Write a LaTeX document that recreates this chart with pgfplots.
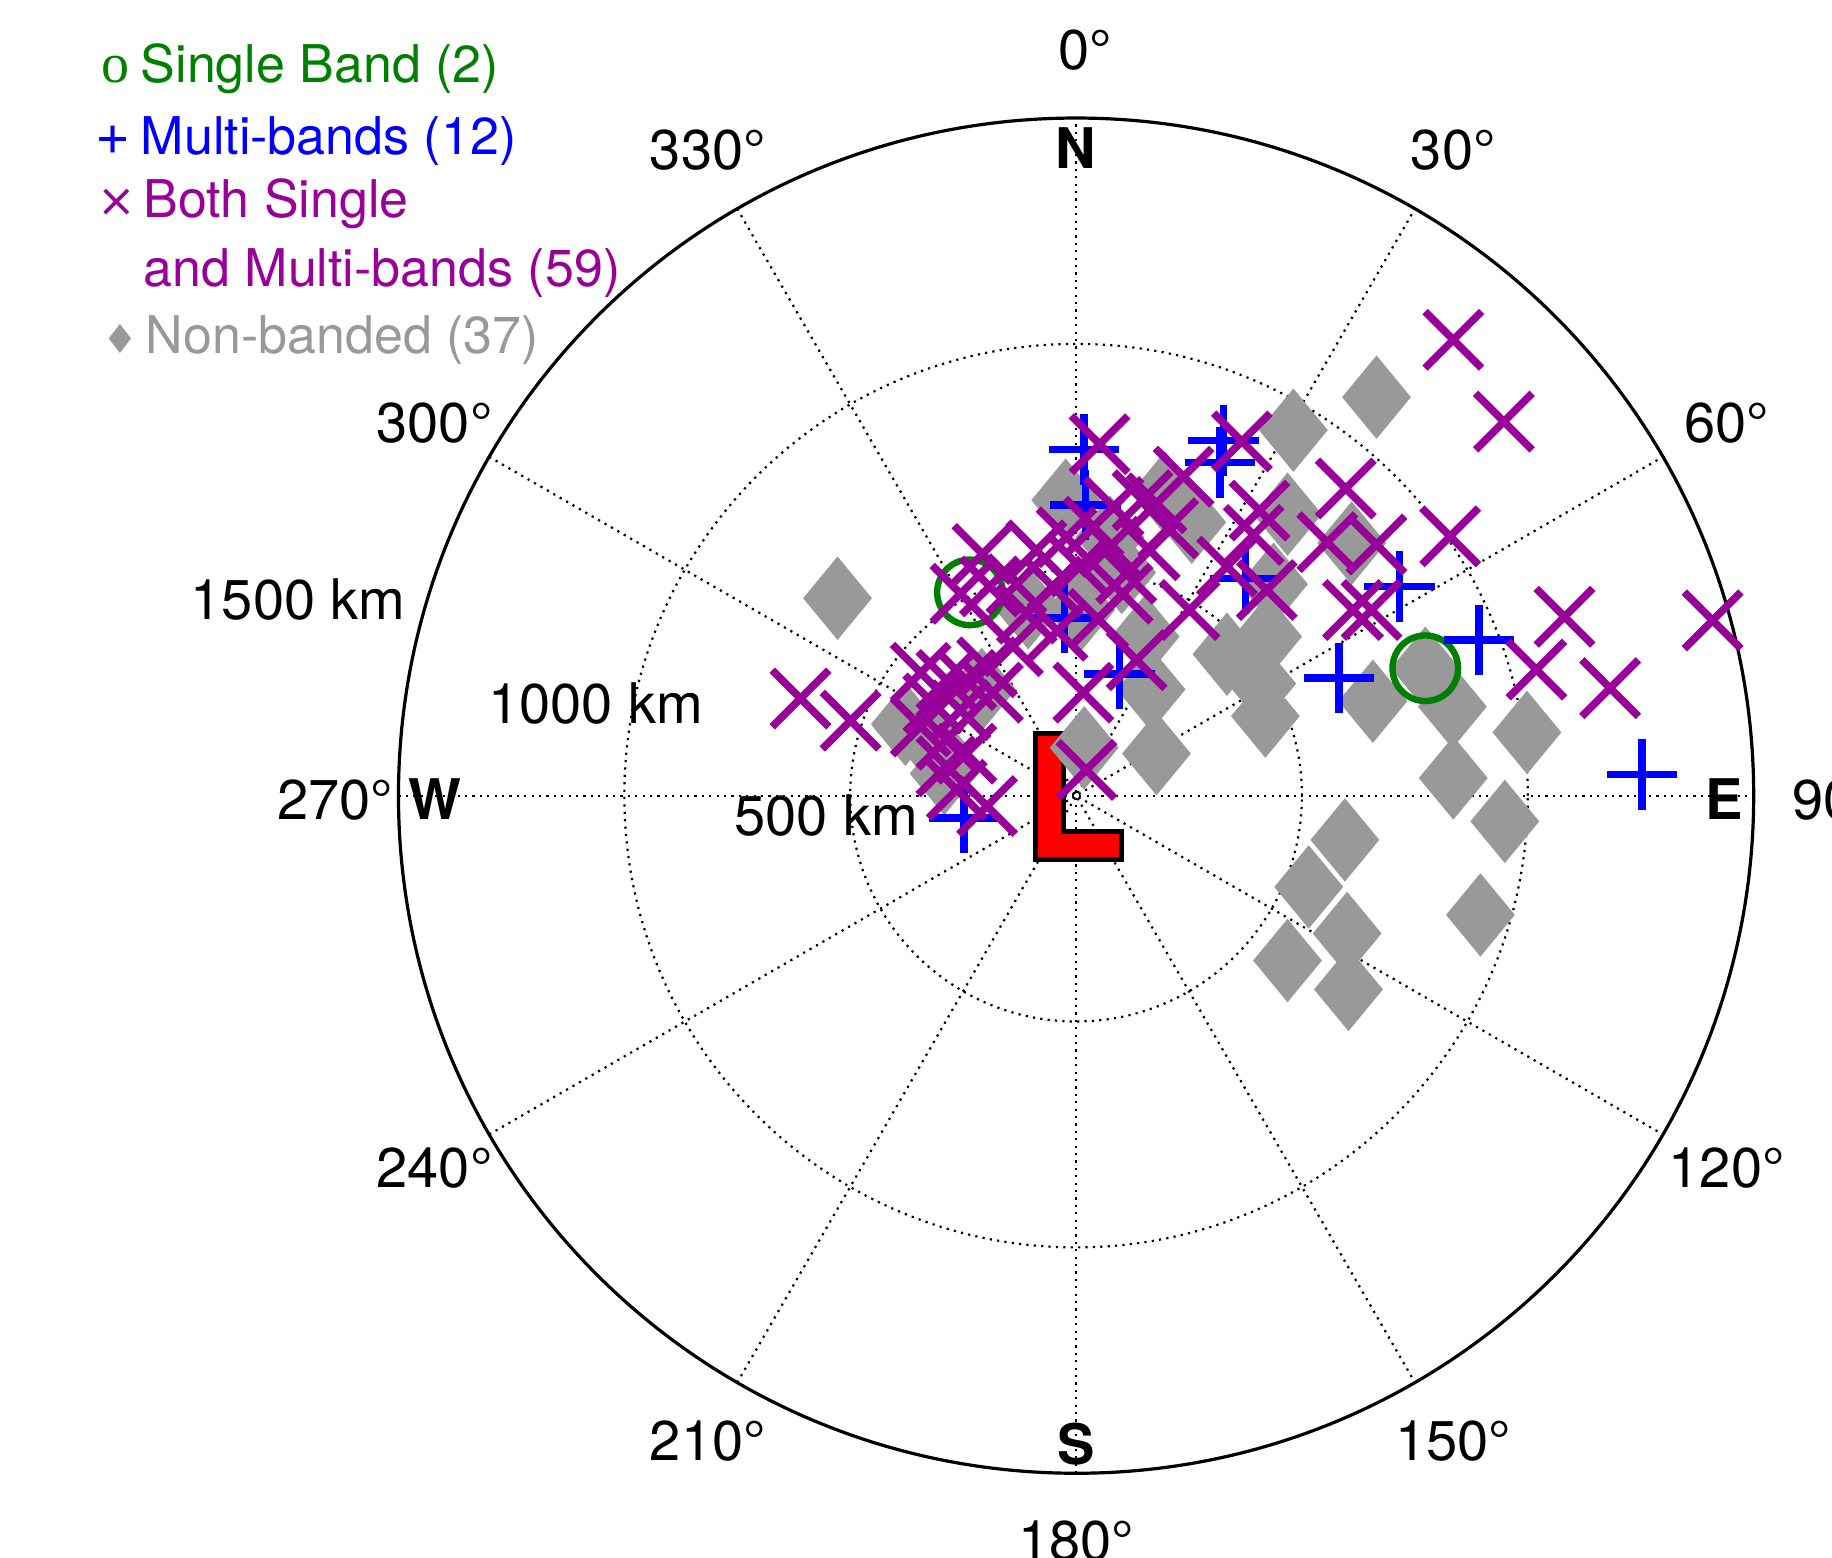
\documentclass[border=0pt]{standalone}
\usepackage{pgfplots}
\pgfplotsset{compat=1.18}
\usepackage{pgfplotstable}
\usepackage{fontspec}
\setmainfont{TeX Gyre Heros}
\newfontfamily\dejavu{DejaVu Sans}
\newfontfamily\serifo{Liberation Serif}
\definecolor{mgreen}{rgb}{0,0.5,0}
\definecolor{mblue}{rgb}{0,0,1}
\definecolor{mpurple}{rgb}{0.6,0,0.6}
\definecolor{mgray}{rgb}{0.6,0.6,0.6}

% east (km), north (km) of each event relative to the site L
\pgfplotstableread{
x y
-235 450
773 282
}\single

\pgfplotstableread{
x y
18 766
326 786
318 737
21 644
-26 393
96 269
375 481
716 463
892 344
582 261
1252 47
-248 -49
}\multi

\pgfplotstableread{
x y
835 1009
947 828
597 680
828 574
1081 396
1409 388
1019 279
1182 238
-610 215
-499 166
52 778
367 784
23 57
-197 -23
556 561
665 556
613 411
654 411
238 706
178 647
406 631
393 577
334 507
422 455
251 411
83 639
75 551
163 543
103 447
-207 535
-256 447
-191 463
-88 543
-21 572
39 595
147 654
204 592
111 491
8 507
-52 463
-109 403
-140 331
-197 284
-243 256
-287 256
-344 272
-316 204
-256 189
-184 228
-344 153
-287 124
-243 93
-287 65
-264 13
16 228
134 300
49 391
-132 468
-41 365
}\both

\pgfplotstableread{
x y
-528 437
-378 158
-292 49
-209 235
-23 654
10 411
18 106
178 93
166 235
153 352
197 670
256 605
481 809
665 882
468 623
610 559
437 468
424 352
411 248
419 176
657 209
773 282
833 197
998 140
835 39
949 -57
595 -98
515 -202
600 -305
468 -365
603 -429
895 -264
334 313
75 572
101 494
-106 416
-313 106
}\nonband

\tikzset{gridline/.style={black, line width=0.55pt, dash pattern=on 0.55pt off 1.3pt}}

\begin{document}
\begin{tikzpicture}
\begin{axis}[
  x=0.112942pt, y=0.112942pt,
  xmin=-2381.9, xmax=1673.3, ymin=-1686.2, ymax=1761.2,
  hide axis, clip=false, enlargelimits=false,
  /pgf/number format/assume math mode=true,
]
\coordinate (SW) at (axis cs:-2381.9,-1686.2);
\coordinate (NE) at (axis cs:1673.3,1761.2);

% grid
\draw[gridline] (axis cs:0,0) circle[radius=56.471pt];
\draw[gridline] (axis cs:0,0) circle[radius=112.942pt];
\draw[gridline] (axis cs:0,-1500) -- (axis cs:0,1500);
\draw[gridline] (axis cs:-750,-1299.04) -- (axis cs:750,1299.04);
\draw[gridline] (axis cs:-1299.04,-750) -- (axis cs:1299.04,750);
\draw[gridline] (axis cs:-1500,0) -- (axis cs:1500,0);
\draw[gridline] (axis cs:-1299.04,750) -- (axis cs:1299.04,-750);
\draw[gridline] (axis cs:-750,1299.04) -- (axis cs:750,-1299.04);
\draw[black, line width=0.8pt] (axis cs:0,0) circle[radius=169.413pt];

% angle labels
\begin{scope}[every node/.style={font=\fontsize{14}{16}\selectfont, inner sep=0pt}]
\node at (axis cs:20,1650) {0°};
\node at (axis cs:835,1428.9) {30°};
\node at (axis cs:1440,825) {60°};
\node at (axis cs:1680,-10) {90°};
\node at (axis cs:1440,-825) {120°};
\node at (axis cs:835,-1428.9) {150°};
\node at (axis cs:0,-1650) {180°};
\node at (axis cs:-815,-1428.9) {210°};
\node at (axis cs:-1420,-825) {240°};
\node at (axis cs:-1640,-10) {270°};
\node at (axis cs:-1420,825) {300°};
\node at (axis cs:-815,1428.9) {330°};
\node[font=\fontsize{14}{16}\selectfont\bfseries] at (axis cs:0,1433) {N};
\node[font=\fontsize{14}{16}\selectfont\bfseries] at (axis cs:1435,-8) {E};
\node[font=\fontsize{14}{16}\selectfont\bfseries] at (axis cs:0,-1435) {S};
\node[font=\fontsize{14}{16}\selectfont\bfseries] at (axis cs:-1420,-8) {W};
\node at (axis cs:-553,-44) {500 km};
\node at (axis cs:-1063,204) {1000 km};
\node at (axis cs:-1722,434) {1500 km};
\end{scope}

% data
\addplot[only marks, mark=diamond*, mark size=9.8pt, color=mgray,
  mark options={fill=mgray, draw=mgray, line width=0.8pt, xscale=1.1}] table {\nonband};
\addplot[only marks, mark=o, mark size=8.2pt, color=mgreen,
  mark options={line width=1.6pt}] table {\single};
\addplot[only marks, mark=+, mark size=8.8pt, color=mblue,
  mark options={line width=1.9pt}] table {\multi};
\addplot[only marks, mark=x, mark size=10pt, color=mpurple,
  mark options={line width=1.9pt}] table {\both};

% site marker L
\draw[fill=red, draw=black, line width=1.3pt]
  (axis cs:-90.5,137.1) -- (axis cs:-28.4,137.1) -- (axis cs:-28.4,-80.2)
  -- (axis cs:100.9,-80.2) -- (axis cs:100.9,-142.2) -- (axis cs:-90.5,-142.2) -- cycle;

% legend (text annotations)
\begin{scope}[every node/.style={font=\fontsize{13}{15}\selectfont, inner sep=0pt, anchor=base west}]
\node[text=mgreen] at (axis cs:-2159,1578) {\serifo\fontsize{14}{16}\selectfont o};
\node[text=mgreen] at (axis cs:-2072,1578) {Single Band (2)};
\node[text=mblue] at (axis cs:-2172,1420) {\fontsize{15}{16}\selectfont +};
\node[text=mblue] at (axis cs:-2072,1420) {Multi-bands (12)};
\node[text=mpurple] at (axis cs:-2168,1283) {\dejavu\fontsize{11.5}{13}\selectfont ×};
\node[text=mpurple] at (axis cs:-2066,1280) {Both Single};
\node[text=mpurple] at (axis cs:-2066,1128) {and Multi-bands (59)};
\node[text=mgray] at (axis cs:-2156,978) {\dejavu\fontsize{10}{12}\selectfont ♦};
\node[text=mgray] at (axis cs:-2061,978) {Non-banded (37)};
\end{scope}
\end{axis}
\pgfresetboundingbox
\path[use as bounding box] (SW) rectangle (NE);
\end{tikzpicture}
\end{document}
